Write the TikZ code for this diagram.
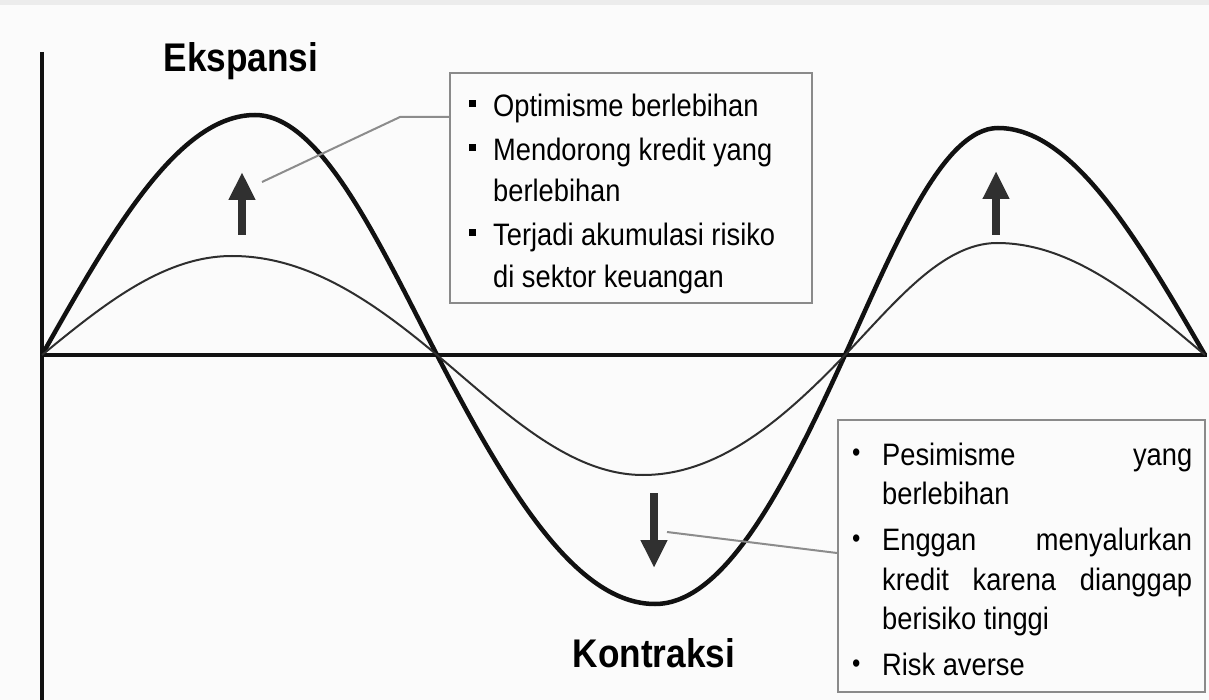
\documentclass[tikz,border=0pt]{standalone}
\usepackage{fontspec}
\setmainfont{Liberation Sans}[FakeStretch=0.88]
\usetikzlibrary{arrows.meta,calc}

\definecolor{paper}{HTML}{FBFBFB}
\definecolor{ink}{HTML}{111111}
\definecolor{thincurve}{HTML}{2E2E2E}
\definecolor{blockarrow}{HTML}{303030}
\definecolor{frame}{HTML}{8A8A8A}
\definecolor{leader}{HTML}{8C8C8C}

% list markers: small squares and small round dots
\newcommand\sqbullet{\makebox[24pt][l]{\rule[9.5pt]{6.5pt}{7pt}}}
\newcommand\dotbullet{\makebox[30pt][l]{\raisebox{3.5pt}{\fontsize{27}{27}\selectfont\textbullet}}}
\newcommand\firstline{\rule{0pt}{30pt}}

\begin{document}
\begin{tikzpicture}[x=1pt,y=-1pt,
  axis/.style={line width=4.5pt, draw=ink},
  cyclecurve/.style={line width=4.5pt, draw=ink, line join=round},
  trendcurve/.style={line width=2pt, draw=thincurve, line join=round},
  move/.style={line width=8pt, draw=blockarrow, -{Triangle[width=25pt,length=28pt]}},
  notebox/.style={draw=frame, line width=2pt, fill=paper, inner sep=0pt},
  leaderline/.style={draw=leader, line width=2pt},
  phase/.style={font=\bfseries\fontsize{40}{40}\selectfont, inner sep=0pt, anchor=base},
  notes/.style={anchor=north west, inner sep=0pt, align=left}
]
% page
\fill[paper] (0,0) rectangle (1209,700);
\fill[gray!15] (0,0) rectangle (1209,5);
\useasboundingbox (0,0) rectangle (1209,700);

% axes
\draw[axis] (42,52) -- (42,700);
\draw[axis] (42,355) -- (1207,355);

% business cycle with large swings
\draw[cyclecurve] (42,355) .. controls (111.4,232.1) and (178.3,115) .. (255,115)
  .. controls (320.5,115) and (377.7,240.5) .. (437,355)
  .. controls (508.1,492.2) and (576.5,604) .. (655,604)
  .. controls (723.4,604) and (783.1,491.2) .. (845,355)
  .. controls (894.9,245.2) and (942.9,128) .. (998,128)
  .. controls (1072.5,128) and (1137.5,238.7) .. (1205,355);

% moderate cycle
\draw[trendcurve] (42,355) .. controls (103.9,304.3) and (163.6,256) .. (232,256)
  .. controls (305.8,256) and (370.2,298.9) .. (437,355)
  .. controls (504.2,411.4) and (568.8,475) .. (643,475)
  .. controls (715.7,475) and (779.1,424.2) .. (845,355)
  .. controls (894.6,302.9) and (942.3,243) .. (997,243)
  .. controls (1071.9,243) and (1137.2,297.6) .. (1205,355);

% direction arrows
\draw[move] (242,235) -- (242,172);
\draw[move] (996,235) -- (996,171);
\draw[move] (654,493) -- (654,568);

% phase labels
\node[phase] (ekspansi) at (241,72) {Ekspansi};
\node[phase] (kontraksi) at (654,667) {Kontraksi};

% note boxes
\node[notebox, minimum width=362pt, minimum height=230pt] (box1) at (631,188) {};
\node[notebox, minimum width=367pt, minimum height=272pt] (box2) at (1021.5,556) {};

\node[notes] (list1) at (469,86) {\parbox[t]{340pt}{%
  \fontsize{31}{41.5}\selectfont\setlength\parskip{2.5pt}%
  \hangindent=24pt\hangafter=1\sqbullet\firstline Optimisme berlebihan\par
  \hangindent=24pt\hangafter=1\sqbullet Mendorong kredit yang\\berlebihan\par
  \hangindent=24pt\hangafter=1\sqbullet Terjadi akumulasi risiko\\di sektor keuangan\par}};

\node[notes] (list2) at (852,435) {\parbox[t]{340pt}{%
  \fontsize{31}{39.5}\selectfont\setlength\parskip{6.5pt}%
  \hangindent=30pt\hangafter=1\dotbullet\firstline Pesimisme\hfill yang\\berlebihan\par
  \hangindent=30pt\hangafter=1\dotbullet Enggan\hfill menyalurkan\\kredit\hfill karena\hfill dianggap\\berisiko tinggi\par
  \hangindent=30pt\hangafter=1\dotbullet Risk averse\par}};

% leader lines from the arrows to the notes
\coordinate (upnote) at (262,182);
\coordinate (upbend) at (400,117);
\draw[leaderline] (upnote) -- (upbend) -- (upbend -| box1.west);
\coordinate (downnote) at (667,532);
\draw[leaderline] (downnote) -- ([yshift=3pt]box2.west);
\end{tikzpicture}
\end{document}
